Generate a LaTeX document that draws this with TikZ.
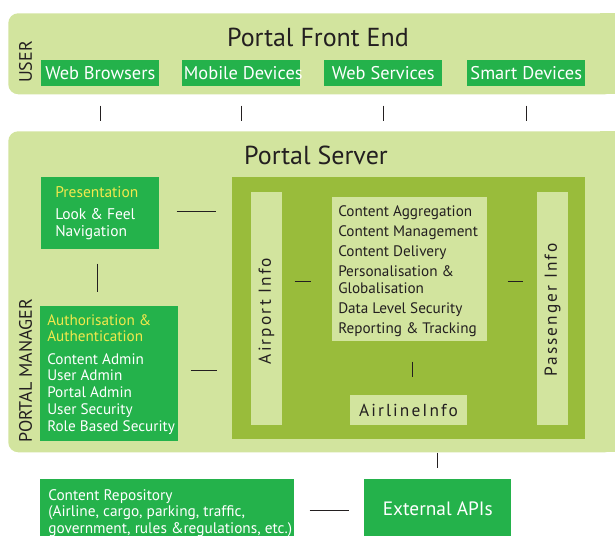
\documentclass[tikz,border=0pt]{standalone}
\usepackage{fontspec}
\setmainfont{PT Sans}
\newfontfamily\spacedfont[LetterSpace=12]{PT Sans}
\definecolor{panel}{HTML}{D2E49E}
\definecolor{olive}{HTML}{99BC3B}
\definecolor{boxgreen}{HTML}{24B24B}
\definecolor{ylw}{HTML}{F2E84D}
\definecolor{ink}{HTML}{231F20}
\begin{document}
\begin{tikzpicture}[x=0.75pt,y=-0.75pt,
  panelbox/.style={fill=panel, rounded corners=7.5pt},
  gbox/.style={fill=boxgreen, inner sep=0pt, anchor=north west},
  lbox/.style={fill=panel, inner sep=0pt, anchor=north west},
  title/.style={font=\fontsize{19.5}{22}\selectfont, text=ink},
  toptext/.style={font=\fontsize{13.8}{16}\selectfont, text=white},
  conn/.style={draw=ink, line width=0.75pt},
  side/.style={font=\fontsize{13.5}{16}\selectfont, text=ink, rotate=90}
]
\useasboundingbox (0,0) rectangle (615,536);
% panels
\node[panelbox, anchor=north west, minimum width=607*0.75pt, minimum height=81*0.75pt, inner sep=0pt] (front) at (8,13) {};
\fill[panel] (600,13) rectangle (615,94);
\node[panelbox, anchor=north west, minimum width=607*0.75pt, minimum height=321*0.75pt, inner sep=0pt] (server) at (8,131) {};
\fill[panel] (600,131) rectangle (615,452);

\node[title] (ftitle) at (318,37) {Portal Front End};
\node[side] (user) at (25.5,62) {USER};

% top boxes
\node[gbox, minimum width=118*0.75pt, minimum height=26*0.75pt] (wb) at (41,60) {};
\node[gbox, minimum width=118*0.75pt, minimum height=26*0.75pt] (md) at (182,60) {};
\node[gbox, minimum width=118*0.75pt, minimum height=26*0.75pt] (ws) at (324,60) {};
\node[gbox, minimum width=118*0.75pt, minimum height=26*0.75pt] (sd) at (467,60) {};
\node[toptext] at (wb.center) {Web Browsers};
\node[toptext] at ([xshift=1.5pt]md.center) {Mobile Devices};
\node[toptext] at (ws.center) {Web Services};
\node[toptext] at (sd.center) {Smart Devices};

\foreach \b in {wb,md,ws,sd}
  \draw[conn, shorten <=14.25pt, shorten >=7.5pt] (\b.south) -- (\b.south |- server.north);

% server
\node[title] (stitle) at (316,155) {Portal Server};
\node[side] (pm) at (25.5,371) {PORTAL MANAGER};

\node[gbox, minimum width=118*0.75pt, minimum height=72*0.75pt] (pres) at (41,177) {};
\node[anchor=north west, inner sep=0pt, align=left, text=white,
      font=\fontsize{11.6}{13}\selectfont] at (55,186)
  {\textcolor{ylw}{Presentation}\\[3.5pt] Look \& Feel\\ Navigation};

\node[gbox, minimum width=138*0.75pt, minimum height=135*0.75pt] (auth) at (40,306) {};
\node[anchor=north west, inner sep=0pt, align=left, text=white,
      font=\fontsize{11.4}{12.6}\selectfont] at (47,314)
  {\textcolor{ylw}{Authorisation \&}\\[-0.5pt] \textcolor{ylw}{Authentication}\\[4.5pt]
   Content Admin\\ User Admin\\ Portal Admin\\ User Security\\ Role Based Security};

\node[fill=olive, inner sep=0pt, anchor=north west, minimum width=353*0.75pt, minimum height=262*0.75pt] (inner) at (232,177) {};

\node[lbox, minimum width=31*0.75pt, minimum height=233*0.75pt] (airport) at (251,192) {};
\node[lbox, minimum width=31*0.75pt, minimum height=233*0.75pt] (pass) at (537,192) {};
\node[lbox, minimum width=155*0.75pt, minimum height=144*0.75pt] (content) at (332,197) {};
\node[lbox, minimum width=117*0.75pt, minimum height=30*0.75pt] (airline) at (350,395) {};

\node[rotate=90, text=ink, font=\spacedfont\fontsize{13}{15}\selectfont] at (266.5,311) {Airport Info};
\node[rotate=90, text=ink, font=\spacedfont\fontsize{13}{15}\selectfont] at (552.5,310) {Passenger Info};
\node[text=ink, font=\spacedfont\fontsize{13}{15}\selectfont] at (408.5,410) {AirlineInfo};

\node[anchor=north west, inner sep=0pt, align=left, text=ink,
      font=\fontsize{11.4}{15.1}\selectfont] at (338,205)
  {Content Aggregation\\ Content Management\\ Content Delivery\\
   Personalisation \&\\[-2.5pt] Globalisation\\ Data Level Security\\ Reporting \& Tracking};

\coordinate (r1) at (0,281);
\coordinate (r2) at (0,211);
\coordinate (r3) at (0,370);
\coordinate (r4) at (0,510);
\coordinate (c1) at (412,0);
\coordinate (c2) at (97,0);
\draw[conn, shorten <=12.75pt, shorten >=12pt] (pres.east |- r2) -- (inner.west |- r2);
\draw[conn, shorten <=9pt, shorten >=11.25pt] (auth.east |- r3) -- (inner.west |- r3);
\draw[conn, shorten <=10.5pt, shorten >=10.5pt] (c2 |- pres.south) -- (c2 |- auth.north);
\draw[conn, shorten <=9pt, shorten >=15.75pt] (airport.east |- r1) -- (content.west |- r1);
\draw[conn, shorten <=15pt, shorten >=10.5pt] (content.east |- r1) -- (pass.west |- r1);
\draw[conn, shorten <=15pt, shorten >=13.5pt] (c1 |- content.south) -- (c1 |- airline.north);

% bottom
\node[gbox, minimum width=254*0.75pt, minimum height=57*0.75pt] (repo) at (40,479) {};
\node[anchor=north west, inner sep=0pt, align=left, text=white,
      font=\fontsize{11.5}{12.4}\selectfont] at (48,489)
  {Content Repository\\ (Airline, cargo, parking, traffic,\\ government, rules \&regulations, etc.)};
\node[gbox, minimum width=147*0.75pt, minimum height=57*0.75pt] (ext) at (364,479) {};
\node[text=white, font=\fontsize{14.5}{16}\selectfont] at ([yshift=-1pt]ext.center) {External APIs};

\draw[conn, shorten >=8.25pt] (server.south -| ext.north) -- (ext.north);
\draw[conn, shorten <=11.25pt, shorten >=11.25pt] (repo.east |- r4) -- (ext.west |- r4);
\end{tikzpicture}
\end{document}
